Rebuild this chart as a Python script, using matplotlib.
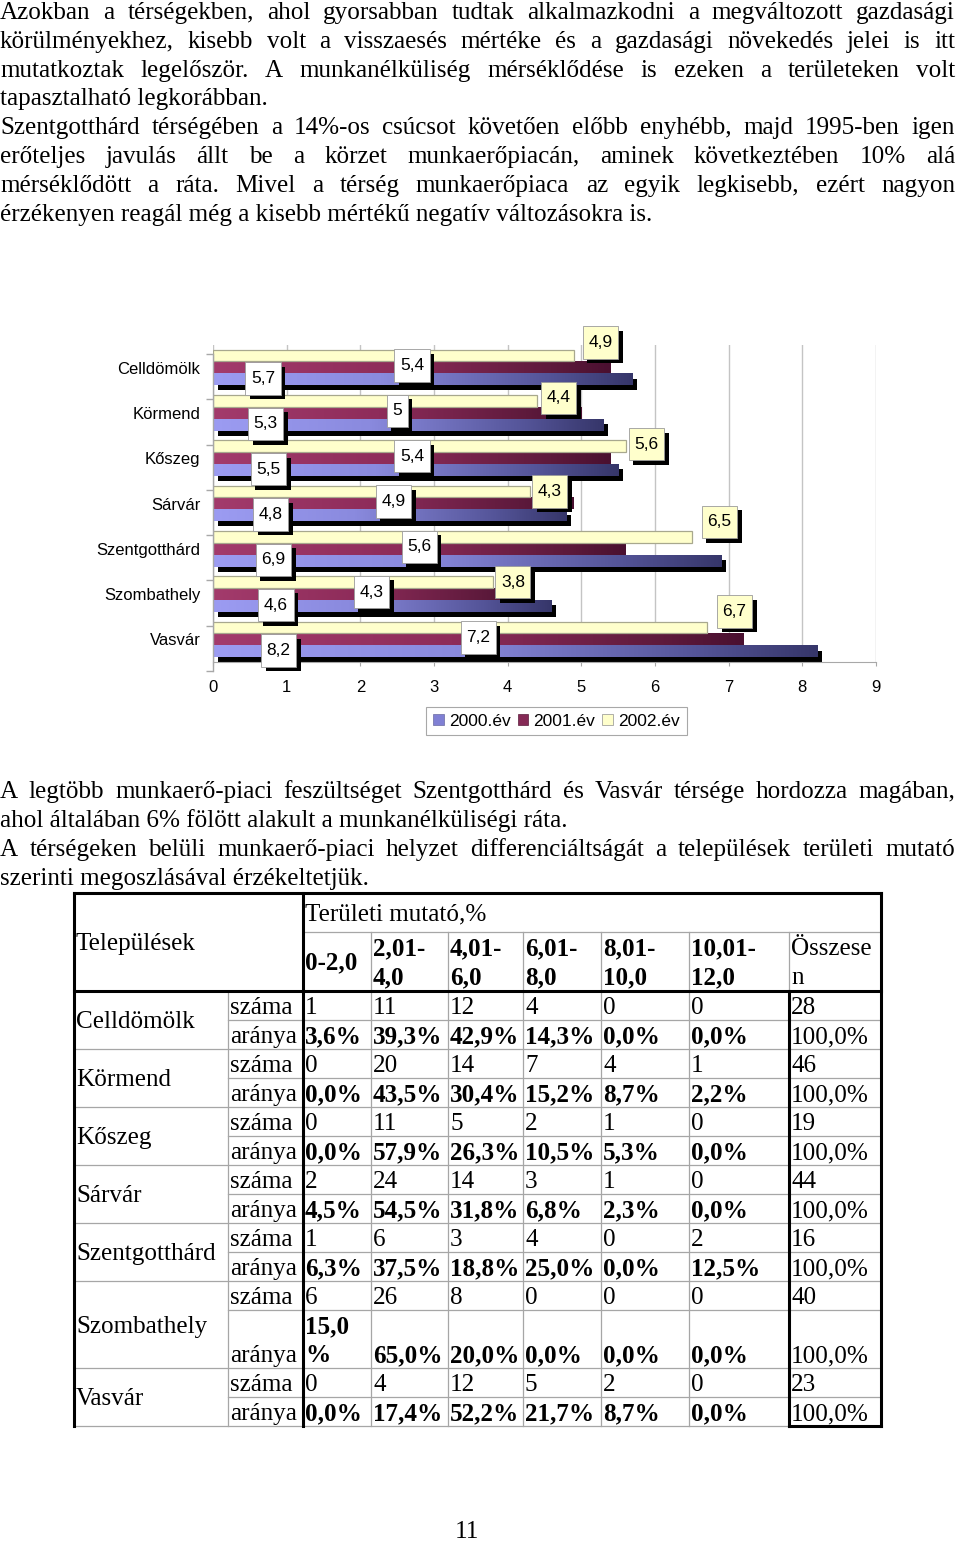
import numpy as np
import matplotlib
matplotlib.use('Agg')
import matplotlib.pyplot as plt
import matplotlib.patheffects as pe
import matplotlib.transforms as mtransforms
from matplotlib.colors import LinearSegmentedColormap
from matplotlib.patches import Rectangle, Patch
from matplotlib.path import Path
from matplotlib import markers

plt.rcParams['font.family'] = 'Liberation Sans'

# ---- chart data ----
regions = ['Celldömölk', 'Körmend', 'Kőszeg', 'Sárvár', 'Szentgotthárd', 'Szombathely', 'Vasvár']
v2000 = [5.7, 5.3, 5.5, 4.8, 6.9, 4.6, 8.2]
v2001 = [5.4, 5.0, 5.4, 4.9, 5.6, 4.3, 7.2]
v2002 = [4.9, 4.4, 5.6, 4.3, 6.5, 3.8, 6.7]
series_names = ['2000.év', '2001.év', '2002.év']

# ---- table data ----
range_labels = ['0-2,0', '2,01-\n4,0', '4,01-\n6,0', '6,01-\n8,0', '8,01-\n10,0', '10,01-\n12,0']
total_label = 'Összese\nn'
counts = [[1, 11, 12, 4, 0, 0, 28],
          [0, 20, 14, 7, 4, 1, 46],
          [0, 11, 5, 2, 1, 0, 19],
          [2, 24, 14, 3, 1, 0, 44],
          [1, 6, 3, 4, 0, 2, 16],
          [6, 26, 8, 0, 0, 0, 40],
          [0, 4, 12, 5, 2, 0, 23]]
shares = [[3.6, 39.3, 42.9, 14.3, 0.0, 0.0, 100.0],
          [0.0, 43.5, 30.4, 15.2, 8.7, 2.2, 100.0],
          [0.0, 57.9, 26.3, 10.5, 5.3, 0.0, 100.0],
          [4.5, 54.5, 31.8, 6.8, 2.3, 0.0, 100.0],
          [6.3, 37.5, 18.8, 25.0, 0.0, 12.5, 100.0],
          [15.0, 65.0, 20.0, 0.0, 0.0, 0.0, 100.0],
          [0.0, 17.4, 52.2, 21.7, 8.7, 0.0, 100.0]]

para1 = ["Azokban a térségekben, ahol gyorsabban tudtak alkalmazkodni a megváltozott gazdasági",
         "körülményekhez, kisebb volt a visszaesés mértéke és a gazdasági növekedés jelei is itt",
         "mutatkoztak legelőször. A munkanélküliség mérséklődése is ezeken a területeken volt",
         "tapasztalható legkorábban.",
         "Szentgotthárd térségében a 14%-os csúcsot követően előbb enyhébb, majd 1995-ben igen",
         "erőteljes javulás állt be a körzet munkaerőpiacán, aminek következtében 10% alá",
         "mérséklődött a ráta. Mivel a térség munkaerőpiaca az egyik legkisebb, ezért nagyon",
         "érzékenyen reagál még a kisebb mértékű negatív változásokra is."]
para1_just = [True, True, True, False, True, True, True, False]
para2 = ["A legtöbb munkaerő-piaci feszültséget Szentgotthárd és Vasvár térsége hordozza magában,",
         "ahol általában 6% fölött alakult a munkanélküliségi ráta.",
         "A térségeken belüli munkaerő-piaci helyzet differenciáltságát a települések területi mutató",
         "szerinti megoszlásával érzékeltetjük."]
para2_just = [True, False, True, False]

W, H = 960, 1543
fig = plt.figure(figsize=(W / 100, H / 100), dpi=100)
page = fig.add_axes([0, 0, 1, 1])
page.set_xlim(0, W)
page.set_ylim(H, 0)
page.axis('off')
renderer = fig.canvas.get_renderer()

SERIF = dict(family='Liberation Serif', size=18.1, color='black')


def text_width(s, **kw):
    t = page.text(0, 0, s, **kw)
    w = t.get_window_extent(renderer=renderer).width
    t.remove()
    return w


def put_line(y, line, justify, right=955):
    if not justify:
        page.text(0, y, line, va='baseline', ha='left', **SERIF)
        return
    words = line.split(' ')
    widths = [text_width(w, **SERIF) for w in words]
    gap = (right - sum(widths)) / (len(words) - 1)
    x = 0
    for w, wd in zip(words, widths):
        page.text(x, y, w, va='baseline', ha='left', **SERIF)
        x += wd + gap


for k, (line, j) in enumerate(zip(para1, para1_just)):
    put_line(19 + 28.8 * k, line, j)
for k, (line, j) in enumerate(zip(para2, para2_just)):
    put_line(798 + 29 * k, line, j)

page.text(467, 1538, '11', ha='center', va='baseline', **SERIF)

# ---- chart ----
ax_l, ax_r, ax_t, ax_b = 213, 876, 345, 662
ax = fig.add_axes([ax_l / W, 1 - ax_b / H, (ax_r - ax_l) / W, (ax_b - ax_t) / H])
ax.patch.set_visible(False)

blue_cm = LinearSegmentedColormap.from_list('b', [(0, '#9c9cf2'), (0.4, '#8a8ade'), (0.8, '#545498'), (1, '#36366a')])
purp_cm = LinearSegmentedColormap.from_list('p', [(0, '#a33b6c'), (0.45, '#8e2c5a'), (0.85, '#5e1a3c'), (1, '#4a1030')])
grad = np.linspace(0, 1, 256).reshape(1, -1)

h = 0.255
off = {0: 0.265, 1: 0.0, 2: -0.265}
ypos = np.arange(len(regions))
shadow_tr = mtransforms.offset_copy(ax.transData, fig=fig, x=4.5, y=-5, units='dots')

for i in ypos:
    yb = i + off[0]
    ax.add_patch(Rectangle((0, yb - h / 2), v2000[i], h, transform=shadow_tr,
                           facecolor='black', edgecolor='none', zorder=1.5))
    ax.imshow(grad, cmap=blue_cm, extent=(0, v2000[i], yb + h / 2, yb - h / 2),
              aspect='auto', interpolation='bilinear', zorder=2)
    yp = i + off[1]
    ax.imshow(grad, cmap=purp_cm, extent=(0, v2001[i], yp + h / 2, yp - h / 2),
              aspect='auto', interpolation='bilinear', zorder=2)
ax.barh(ypos + off[2], v2002, height=h, color='#ffffcc', edgecolor='#a8a88e', lw=0.9, zorder=2)

ax.set_xlim(0, 9)
ax.set_ylim(len(regions) - 0.5, -0.5)
ax.set_xticks(range(10))
ax.set_yticks(ypos, regions)
ax.grid(axis='x', color='#c4c4c4', lw=1)
ax.set_axisbelow(True)
for s in ['top', 'right', 'left']:
    ax.spines[s].set_visible(False)
ax.spines['bottom'].set_color('#a8a8a8')
ax.tick_params(axis='x', length=3, color='#a8a8a8', pad=10, labelsize=12)
ax.tick_params(axis='y', length=0, pad=9, labelsize=12)

# front left axis of the 3d box, a bit lower than the back wall
left_tr = mtransforms.offset_copy(ax.transData, fig=fig, x=0, y=-9, units='dots')
bounds = np.arange(len(regions) + 1) - 0.5
ax.plot([0, 0], [bounds[0], bounds[-1]], color='#a8a8a8', lw=1, transform=left_tr, clip_on=False)
ax.plot(np.zeros_like(bounds), bounds, ls='none', marker=markers.TICKLEFT, ms=5,
        mec='#a8a8a8', transform=left_tr, clip_on=False)


def fmt(v):
    return ('%g' % v).replace('.', ',')


def tall_box(x0, y0, width, height, mutation_size):
    px, py = 0.32 * mutation_size, 0.5 * mutation_size
    x0, y0 = x0 - px, y0 - py
    x1, y1 = x0 + width + 2 * px, y0 + height + 2 * py
    return Path([(x0, y0), (x1, y0), (x1, y1), (x0, y1), (x0, y0)], closed=True)


def label(x, y, txt, fc, dx=0, dy=0):
    t = ax.annotate(txt, xy=(x, y), xytext=(dx, dy), textcoords='offset pixels',
                    ha='center', va='center', fontsize=12.5, zorder=6, annotation_clip=False,
                    bbox=dict(boxstyle=tall_box, fc=fc, ec='#9a9a9a', lw=0.6))
    t.get_bbox_patch().set_path_effects([pe.withSimplePatchShadow(offset=(3.3, -3.3), shadow_rgbFace='black', alpha=1.0)])


lift = [13, 3, 2, 0, 15, 0, 16]
for i in ypos:
    label(0.68 + 0.035 * i, i + off[0], fmt(v2000[i]), 'white', dy=1)
    label(v2001[i] / 2, i + off[1], fmt(v2001[i]), 'white', dy=2)
    label(v2002[i], i + off[2], fmt(v2002[i]), '#ffffcc', dx=20 + 0.5 * lift[i], dy=lift[i])

handles = [Patch(facecolor='#8080d4', edgecolor='#6a6aa0', lw=0.5),
           Patch(facecolor='#862a56', edgecolor='#5a1a3a', lw=0.5),
           Patch(facecolor='#ffffcc', edgecolor='#909090', lw=0.5)]
leg = fig.legend(handles, series_names, loc='center', bbox_to_anchor=(556.5 / W, 1 - 721 / H),
                 ncol=3, fontsize=12.5, frameon=True, fancybox=False, edgecolor='#a8a8a8',
                 handlelength=0.6, handleheight=0.6, handletextpad=0.3, columnspacing=0.4,
                 borderpad=0.4, borderaxespad=0, framealpha=1)
leg.get_frame().set_linewidth(0.8)

# ---- table ----
cols = [74, 228, 303, 371, 448, 523, 601, 689, 789, 881]
top, h1, hdr_bot = 893, 932, 991
sub_h = 29
thin = dict(color='#a6a6a6', lw=0.9)
thick = dict(color='black', lw=2.2)


def cell_lines(txt, bold, width):
    if txt.endswith('%') and text_width(txt, weight='bold' if bold else 'normal', **SERIF) > width - 4:
        return [txt[:-1], '%']
    return txt.split('\n')


def put_cell(x, y_top, y_bot, txt, bold=False, valign='bottom', width=999):
    lines = cell_lines(txt, bold, width)
    n = len(lines)
    if valign == 'bottom':
        base0 = y_bot - 6 - (n - 1) * sub_h
    else:
        base0 = (y_top + y_bot) / 2 - (n - 1) * sub_h / 2 + 8
    for k, ln in enumerate(lines):
        page.text(x + 2, base0 + k * sub_h, ln, ha='left', va='baseline',
                  weight='bold' if bold else 'normal', **SERIF)


put_cell(cols[0], top, hdr_bot, 'Települések', valign='center')
put_cell(cols[2], top, h1, 'Területi mutató,%', valign='center')
for c, lab in enumerate(range_labels):
    put_cell(cols[2 + c], h1, hdr_bot, lab, bold=True, valign='center')
put_cell(cols[8], h1, hdr_bot, total_label, valign='center')

y = hdr_bot
row_edges = []
for r, name in enumerate(regions):
    y0 = y
    y1 = y0 + sub_h
    share_txt = [('%.1f' % v).replace('.', ',') + '%' for v in shares[r]]
    nlines = max(len(cell_lines(s, True, cols[3 + c] - cols[2 + c])) for c, s in enumerate(share_txt[:-1]))
    y2 = y1 + sub_h * nlines
    put_cell(cols[1], y0, y1, 'száma')
    put_cell(cols[1], y1, y2, 'aránya')
    for c in range(7):
        wdt = cols[3 + c] - cols[2 + c]
        put_cell(cols[2 + c], y0, y1, str(counts[r][c]), width=wdt)
        put_cell(cols[2 + c], y1, y2, share_txt[c], bold=(c < 6), width=wdt)
    put_cell(cols[0], y0, y2, name, valign='center')
    page.plot([cols[1], cols[-1]], [y1, y1], **thin)
    row_edges.append((y0, y2))
    y = y2
bottom = y

for (y0, y2) in row_edges[1:]:
    page.plot([cols[0], cols[-1]], [y0, y0], **thin)
page.plot([cols[0], cols[-1]], [bottom, bottom], **thin)
page.plot([cols[2], cols[-1]], [h1, h1], **thin)
page.plot([cols[1], cols[1]], [hdr_bot, bottom], **thin)
for c in range(3, 8):
    page.plot([cols[c], cols[c]], [h1, bottom], **thin)
page.plot([cols[8], cols[8]], [h1, hdr_bot], **thin)
# thick borders
page.plot([cols[0], cols[-1]], [top, top], **thick)
page.plot([cols[0], cols[-1]], [hdr_bot, hdr_bot], **thick)
page.plot([cols[0], cols[0]], [top, bottom], **thick)
page.plot([cols[-1], cols[-1]], [top, bottom], **thick)
page.plot([cols[2], cols[2]], [top, bottom], **thick)
page.plot([cols[8], cols[8]], [hdr_bot, bottom], **thick)
page.plot([cols[8], cols[-1]], [bottom, bottom], **thick)

fig.savefig('out.png', dpi=100)
